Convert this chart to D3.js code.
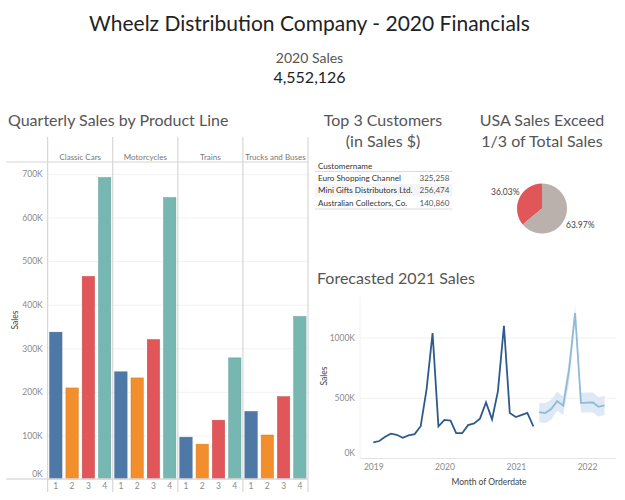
<!DOCTYPE html>
<html>
<head>
<meta charset="utf-8">
<script src="https://cdnjs.cloudflare.com/ajax/libs/d3/7.8.5/d3.min.js"></script>
<style>
body { margin: 0; background: #fff; }
svg { display: block; }
text { font-family: Lato, "Open Sans", sans-serif; }
</style>
</head>
<body>
<svg id="svg_canvas" width="625" height="500"></svg>
<script>
// bar chart values, in thousands
var productLines = ["Classic Cars", "Motorcycles", "Trains", "Trucks and Buses"];
var quarters = [1, 2, 3, 4];
var classicCars = [337, 209, 465, 692];
var motorcycles = [246, 232, 320, 646];
var trains = [96, 80, 135, 278];
var trucksAndBuses = [155, 101, 189, 373];
var barTicks = [0, 100, 200, 300, 400, 500, 600, 700];
var quarterColors = ["#4E79A7", "#F28E2B", "#E15759", "#76B7B2"];

// top customers table
var customers = ["Euro Shopping Channel", "Mini Gifts Distributors Ltd.", "Australian Collectors, Co."];
var customerSales = ["325,258", "256,474", "140,860"];

// pie
var pieLabels = ["36.03%", "63.97%"];
var pieShares = [36.03, 63.97];

// monthly sales in thousands, Jan 2019 - Apr 2021
var actualSales = [130, 141, 175, 202, 193, 168, 188, 198, 264, 568, 1036, 262,
	316, 311, 206, 206, 273, 287, 327, 462, 321, 553, 1097, 373,
	340, 358, 374, 262];
// forecast May 2021 - Apr 2022
var forecastSales = [381, 373, 406, 472, 434, 732, 1202, 456, 459, 461, 425, 436];
var forecastHigh = [456, 456, 483, 550, 511, 815, 1270, 539, 544, 544, 505, 517];
var forecastLow = [296, 290, 318, 395, 356, 622, 1133, 378, 378, 378, 345, 356];
var lineTicks = [0, 500, 1000];
var yearTicks = [2019, 2020, 2021, 2022];

var svg = d3.select("#svg_canvas");
var titleColor = "#555";
var tickColor = "#8a8a8a";

var addText = function(x, y, str, size, color, anchor){
	return svg.append("text")
		.attr("x", x)
		.attr("y", y)
		.attr("font-size", size)
		.attr("fill", color)
		.attr("text-anchor", anchor || "middle")
		.text(str);
};

// headers
addText(309.5, 31, "Wheelz Distribution Company - 2020 Financials", 21, "#222");
addText(309.5, 62.5, "2020 Sales", 14, "#555");
addText(309.5, 82.5, "4,552,126", 16, "#222");

addText(8, 126, "Quarterly Sales by Product Line", 16, titleColor, "start");
addText(383, 126, "Top 3 Customers", 16, titleColor);
addText(383, 147, "(in Sales $)", 16, titleColor);
addText(542, 126, "USA Sales Exceed", 16, titleColor);
addText(542, 147, "1/3 of Total Sales", 16, titleColor);
addText(317, 284, "Forecasted 2021 Sales", 16, titleColor, "start");

// ---- bars ----
var panelX = d3.scaleBand().domain(productLines).range([47.7, 308]);
var quarterX = d3.scaleBand().domain(quarters).range([0, panelX.bandwidth()])
	.paddingInner(0.24).paddingOuter(0.12);
var barY = d3.scaleLinear().domain([0, 700]).range([479, 174]);
var barSeries = [classicCars, motorcycles, trains, trucksAndBuses];

var barAxis = svg.append("g")
	.attr("transform", "translate(47.7,0)")
	.call(d3.axisLeft(barY).tickValues(barTicks).tickSize(-260.3).tickPadding(5)
		.tickFormat(function(d){ return d + "K"; }));
barAxis.select(".domain").remove();
barAxis.selectAll("line").attr("stroke", "#f2f2f2");
barAxis.selectAll("text").attr("fill", tickColor).attr("font-size", 8.5)
	.attr("dy", function(d){ return d === 0 ? "-0.25em" : "0.32em"; });

addText(0, 0, "Sales", 8.5, "#444").attr("transform", "translate(18,320) rotate(-90)");

productLines.forEach(function(line, i){
	var panel = svg.append("g").attr("transform", "translate(" + panelX(line) + ",0)");
	panel.selectAll("rect")
		.data(barSeries[i])
		.enter().append("rect")
		.attr("x", function(d, j){ return quarterX(quarters[j]); })
		.attr("y", function(d){ return barY(d); })
		.attr("width", quarterX.bandwidth())
		.attr("height", function(d){ return barY(0) - barY(d); })
		.attr("fill", function(d, j){ return quarterColors[j]; })
		.attr("stroke", function(d, j){ return d3.color(quarterColors[j]).darker(0.35); })
		.attr("stroke-width", 0.5);
	panel.selectAll("text.q")
		.data(quarters)
		.enter().append("text")
		.attr("class", "q")
		.attr("x", function(d){ return quarterX(d) + quarterX.bandwidth() / 2; })
		.attr("y", 489)
		.attr("text-anchor", "middle")
		.attr("font-size", 8.5)
		.attr("fill", tickColor)
		.text(function(d){ return d; });
	addText(panelX(line) + panelX.bandwidth() / 2, 160, line, 8, "#777");
});

// panel dividers and header rules
panelX.domain().concat(["end"]).forEach(function(line){
	var x = line === "end" ? 308 : panelX(line);
	svg.append("line")
		.attr("x1", x).attr("x2", x)
		.attr("y1", 137).attr("y2", 492)
		.attr("stroke", "#cfcfcf")
		.attr("stroke-width", 1);
});
svg.append("line").attr("x1", 6).attr("x2", 308).attr("y1", 162).attr("y2", 162)
	.attr("stroke", "#d4d4d4");
svg.append("line").attr("x1", 6).attr("x2", 308).attr("y1", 479).attr("y2", 479)
	.attr("stroke", "#ddd").attr("stroke-width", 1.5);

// ---- table ----
var rowY = d3.scaleBand().domain(customers).range([171.5, 209]);
svg.append("rect")
	.attr("x", 315).attr("y", rowY(customers[1]))
	.attr("width", 137.5).attr("height", rowY.bandwidth())
	.attr("fill", "#f5f5f5");
addText(318, 168.5, "Customername", 8.1, "#333", "start");
customers.forEach(function(name, i){
	addText(318, rowY(name) + 9, name, 8.1, "#333", "start");
	addText(449.5, rowY(name) + 9, customerSales[i], 8.1, "#555", "end");
});
[171.5, 209].forEach(function(y){
	svg.append("line").attr("x1", 315).attr("x2", 452.5).attr("y1", y).attr("y2", y)
		.attr("stroke", "#ddd");
});

// ---- pie ----
var pie = d3.pie().sort(null).startAngle(-2 * Math.PI * 0.3603).endAngle(2 * Math.PI * 0.6397);
var arc = d3.arc().innerRadius(0).outerRadius(25);
svg.append("g")
	.attr("transform", "translate(542,208.5)")
	.selectAll("path")
	.data(pie(pieShares))
	.enter().append("path")
	.attr("d", arc)
	.attr("fill", function(d, i){ return i === 0 ? "#E15759" : "#BAB0AC"; });
addText(491, 195, pieLabels[0], 8.5, "#444", "start");
addText(566, 228, pieLabels[1], 8.5, "#444", "start");

// ---- forecast line ----
var parseYear = function(y){ return new Date(y, 0, 1); };
var actualMonths = d3.timeMonth.range(new Date(2019, 0, 1), new Date(2021, 4, 1));
var forecastMonths = d3.timeMonth.range(new Date(2021, 4, 1), new Date(2022, 4, 1));

var lineX = d3.scaleTime().domain([new Date(2019, 0, 1), new Date(2022, 0, 1)]).range([373.3, 587]);
var lineY = d3.scaleLinear().domain([0, 1000]).range([458, 337.5]);

var lineAxis = svg.append("g")
	.attr("transform", "translate(360,0)")
	.call(d3.axisLeft(lineY).tickValues(lineTicks).tickSize(-256).tickPadding(5)
		.tickFormat(function(d){ return d + "K"; }));
lineAxis.select(".domain").remove();
lineAxis.selectAll("line").attr("stroke", function(d){ return d === 0 ? "#e4e4e4" : "#f0f0f0"; });
lineAxis.selectAll("text").attr("fill", tickColor).attr("font-size", 8.5)
	.attr("dy", function(d){ return d === 0 ? "-0.3em" : "0.32em"; });

svg.append("line").attr("x1", 360).attr("x2", 360).attr("y1", 297).attr("y2", 458)
	.attr("stroke", "#f0f0f0");

var yearAxis = svg.append("g")
	.attr("transform", "translate(0,458)")
	.call(d3.axisBottom(lineX).tickValues(yearTicks.map(parseYear)).tickSize(0).tickPadding(6)
		.tickFormat(d3.timeFormat("%Y")));
yearAxis.select(".domain").remove();
yearAxis.selectAll("text").attr("fill", tickColor).attr("font-size", 8.5);

addText(0, 0, "Sales", 8.5, "#444").attr("transform", "translate(327,376) rotate(-90)");
addText(489, 485, "Month of Orderdate", 8.5, "#444");

var band = d3.area()
	.x(function(d, i){ return lineX(forecastMonths[i]); })
	.y0(function(d, i){ return lineY(forecastLow[i]); })
	.y1(function(d){ return lineY(d); });
svg.append("path")
	.attr("d", band(forecastHigh))
	.attr("fill", "#dde9f4");

var actualLine = d3.line()
	.x(function(d, i){ return lineX(actualMonths[i]); })
	.y(function(d){ return lineY(d); });
svg.append("path")
	.attr("d", actualLine(actualSales))
	.attr("fill", "none")
	.attr("stroke", "#2f5b8c")
	.attr("stroke-width", 1.8);

var forecastLine = d3.line()
	.x(function(d, i){ return lineX(forecastMonths[i]); })
	.y(function(d){ return lineY(d); });
svg.append("path")
	.attr("d", forecastLine(forecastSales))
	.attr("fill", "none")
	.attr("stroke", "#90bbd8")
	.attr("stroke-width", 1.8);
</script>
</body>
</html>
